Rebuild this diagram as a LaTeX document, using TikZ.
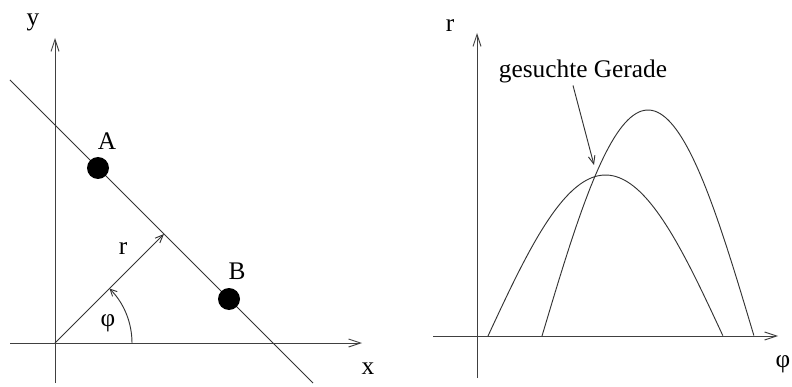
\documentclass[tikz,border=0pt]{standalone}
\usepackage{fontspec}
\setmainfont{Liberation Serif}
\usetikzlibrary{arrows.meta}

\begin{document}
\begin{tikzpicture}[x=0.75pt, y=0.75pt,
      axis/.style={draw=black!75, line width=0.7pt,
                   -{Straight Barb[length=9pt,width=6pt]}},
      curve/.style={draw=black!80, line width=0.7pt},
      vec/.style={draw=black!80, line width=0.7pt,
                  -{Straight Barb[length=6pt,width=5pt]}},
      dot/.style={circle, fill=black, minimum size=16.5pt, inner sep=0pt},
      lbl/.style={font=\fontsize{19}{21}\selectfont, inner sep=1pt},
    ]
    \useasboundingbox (0,0) rectangle (792,386);
    %% left panel: x-y plane
    \coordinate (o) at (55,43);
    \coordinate (xs) at (10,43);
    \coordinate (xe) at (362,43);
    \coordinate (ys) at (55,3);
    \coordinate (ye) at (55,348);
    \draw[axis] (xs) -- (xe);
    \draw[axis] (ys) -- (ye);
    \node[lbl] (xlbl) at (368,17) {x};
    \node[lbl] (ylbl) at (33,364) {y};
    %% the line through A and B
    \coordinate (ls) at (10,306);
    \coordinate (le) at (313,3);
    \draw[curve] (ls) -- (le);
    \node[dot] (a) at (98,218) {};
    \node[dot] (b) at (229,87) {};
    \node[lbl] (albl) at (107,245) {A};
    \node[lbl] (blbl) at (237,115) {B};
    %% normal vector r and angle phi
    \coordinate (foot) at (164,152);
    \draw[vec] (o) -- (foot);
    \node[lbl] (rlbl) at (123,137) {r};
    \draw[curve, -{Straight Barb[length=5pt,width=5pt]}]
      ([xshift=77*0.75pt]o) arc[start angle=0, end angle=45, radius=77];
    \node[lbl] (philbl) at (108,63) {φ};
    %% right panel: Hough space
    \coordinate (o2) at (477,50);
    \coordinate (qs) at (433,50);
    \coordinate (qe) at (778,50);
    \coordinate (rs) at (477,8);
    \coordinate (re) at (477,353);
    \draw[axis] (qs) -- (qe);
    \draw[axis] (rs) -- (re);
    \node[lbl] (r2lbl) at (450,360) {r};
    \node[lbl] (qlbl) at (783,22) {φ};
    %% sinusoids of A and B
    \draw[curve] plot[domain=0:1, samples=80]
      ({488+235*\x}, {50+161*sin(180*\x)});
    \draw[curve] plot[domain=0:1, samples=80]
      ({542+212*\x}, {50+226*sin(180*\x)});
    %% label with arrow to the crossing
    \node[lbl] (gerade) at (583,315) {gesuchte Gerade};
    \coordinate (schnitt) at (594,221);
    \draw[vec] ([xshift=-10*0.75pt, yshift=-1pt]gerade.south) -- (schnitt);
  \end{tikzpicture}
\end{document}
